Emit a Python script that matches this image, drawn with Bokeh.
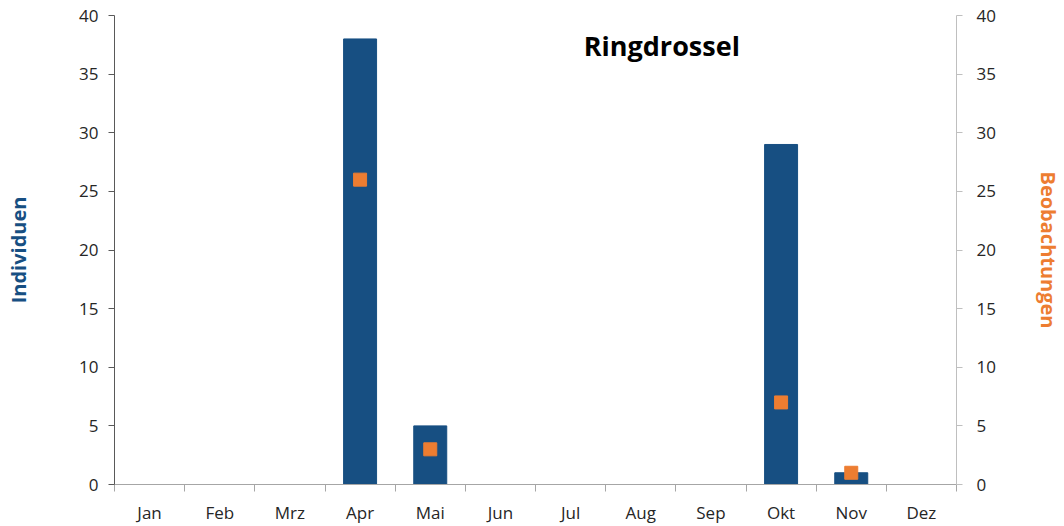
import numpy as np
from bokeh.plotting import figure
from bokeh.models import Range1d, LinearAxis, FixedTicker, Label
from bokeh.embed import file_html
from bokeh.resources import INLINE

months = ["Jan", "Feb", "Mrz", "Apr", "Mai", "Jun", "Jul", "Aug", "Sep", "Okt", "Nov", "Dez"]
individuen = [0, 0, 0, 38, 5, 0, 0, 0, 0, 29, 1, 0]
beobachtungen = [None, None, None, 26, 3, None, None, None, None, 7, 1, None]
y_ticks = [0, 5, 10, 15, 20, 25, 30, 35, 40]
title_text = "Ringdrossel"

FONT = "Open Sans"
BAR_C = "#174F82"
ORANGE = "#ED7D31"

xc = np.arange(len(months)) + 0.5

p = figure(width=1064, height=526, output_backend="svg", toolbar_location=None,
           x_range=Range1d(0, len(months)), y_range=Range1d(0, 40),
           min_border_left=114, min_border_right=106, min_border_top=15, min_border_bottom=42)
p.outline_line_color = None
p.xgrid.visible = False
p.ygrid.visible = False
p.extra_y_ranges = {"right": Range1d(0, 40)}

# bars
bx = [x for x, v in zip(xc, individuen) if v > 0]
bv = [v for v in individuen if v > 0]
p.vbar(x=bx, top=bv, bottom=0, width=0.47, fill_color=BAR_C, line_color=BAR_C)

# squares on right axis
sx = [x for x, v in zip(xc, beobachtungen) if v is not None]
sv = [v for v in beobachtungen if v is not None]
p.scatter(x=sx, y=sv, marker="square", size=13, fill_color=ORANGE, line_color=ORANGE,
          y_range_name="right")

# x axis
xa = p.xaxis[0]
xa.ticker = FixedTicker(ticks=list(xc), minor_ticks=list(range(len(months) + 1)))
xa.major_label_overrides = {float(x): m for x, m in zip(xc, months)}
xa.major_tick_out = 0
xa.major_tick_in = 0
xa.minor_tick_out = 7
xa.minor_tick_in = 0
xa.minor_tick_line_color = "#A6A6A6"
xa.axis_line_color = "#A6A6A6"
xa.major_label_text_font = FONT
xa.major_label_text_font_size = "17px"
xa.major_label_text_color = "#262626"
xa.major_label_standoff = 9

# left axis
ya = p.yaxis[0]
ya.ticker = FixedTicker(ticks=y_ticks)
ya.axis_line_color = "#595959"
ya.major_tick_line_color = "#595959"
ya.major_tick_out = 6
ya.major_tick_in = 0
ya.minor_tick_line_color = None
ya.major_label_text_font = FONT
ya.major_label_text_font_size = "17px"
ya.major_label_text_color = "#262626"
ya.major_label_standoff = 10
ya.axis_label = "Individuen"
ya.axis_label_text_font = FONT
ya.axis_label_text_font_style = "bold"
ya.axis_label_text_font_size = "20px"
ya.axis_label_text_color = BAR_C
ya.axis_label_standoff = 44

# right axis
ra = LinearAxis(y_range_name="right", ticker=FixedTicker(ticks=y_ticks))
ra.axis_line_color = "#BFBFBF"
ra.major_tick_line_color = "#BFBFBF"
ra.major_tick_out = 6
ra.major_tick_in = 0
ra.minor_tick_line_color = None
ra.major_label_text_font = FONT
ra.major_label_text_font_size = "17px"
ra.major_label_text_color = "#262626"
ra.major_label_standoff = 14
ra.axis_label = "Beobachtungen"
ra.axis_label_text_font = FONT
ra.axis_label_text_font_style = "bold"
ra.axis_label_text_font_size = "20px"
ra.axis_label_text_color = ORANGE
ra.axis_label_standoff = 36
p.add_layout(ra, "right")

p.add_layout(Label(x=7.8, y=37.4, text=title_text, text_font=FONT, text_font_style="bold",
                   text_font_size="27px", text_color="#000000",
                   text_align="center", text_baseline="middle"))

open("out.html", "w").write(file_html(p, INLINE))
